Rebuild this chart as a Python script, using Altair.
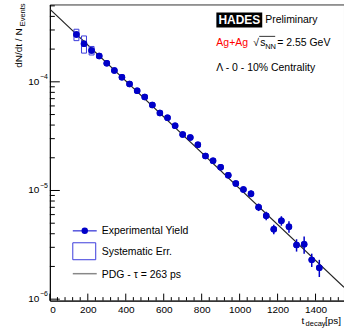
import altair as alt
import pandas as pd

FONT = "Liberation Sans"

# ---- data ----
t_decay = [140, 180, 220, 260, 300, 340, 380, 420, 460, 500, 540, 580, 620, 660,
           700, 740, 780, 820, 860, 900, 940, 980, 1020, 1060, 1100, 1140, 1180,
           1220, 1260, 1300, 1340, 1380, 1420]
yield_vals = [2.72e-4, 2.24e-4, 1.94e-4, 1.73e-4, 1.48e-4, 1.27e-4, 1.10e-4, 9.53e-5,
              8.27e-5, 7.24e-5, 6.11e-5, 5.16e-5, 4.67e-5, 3.95e-5, 3.27e-5, 3.08e-5,
              2.63e-5, 2.08e-5, 1.88e-5, 1.64e-5, 1.38e-5, 1.16e-5, 1.02e-5, 9.33e-6,
              7.03e-6, 5.86e-6, 4.39e-6, 5.27e-6, 4.65e-6, 3.15e-6, 3.20e-6, 2.30e-6,
              1.95e-6]
stat_rel = [0.03] * 20 + [0.05, 0.05, 0.06, 0.07, 0.08, 0.09, 0.10, 0.10, 0.12,
                          0.13, 0.18, 0.14, 0.18]
sys_rel = [0.12, 0.18, 0.09] + [0.02] * 30
sys_half_width = 13

fit_A = 4.67e-4
fit_tau = 263
fit_range = [0, 1550]

x_major = [0, 200, 400, 600, 800, 1000, 1200, 1400]
x_minor = [t for t in range(40, 1550, 40) if t % 200 != 0]
y_major = [1e-6, 1e-5, 1e-4]
y_exp = ["−6", "−5", "−4"]
y_minor = [k * d for d in (1e-6, 1e-5, 1e-4) for k in range(2, 10) if k * d < 5.1e-4]

W, H = 295, 297
BLUE = "#0000c8"
SYS = "#3c3cdc"

df = pd.DataFrame({
    "t": t_decay,
    "v": yield_vals,
    "lo": [v * (1 - e) for v, e in zip(yield_vals, stat_rel)],
    "hi": [v * (1 + e) for v, e in zip(yield_vals, stat_rel)],
    "slo": [v * (1 - e) for v, e in zip(yield_vals, sys_rel)],
    "shi": [v * (1 + e) for v, e in zip(yield_vals, sys_rel)],
    "tl": [t - sys_half_width for t in t_decay],
    "tr": [t + sys_half_width for t in t_decay],
})

xs = alt.Scale(domain=[0, 1550], nice=False, zero=False)
ys = alt.Scale(type="log", domain=[0.97e-6, 5.15e-4], nice=False)

AX = alt.Axis(values=x_major, ticks=False, grid=False, title=None, format="d",
              labelFont=FONT, labelFontSize=10, labelColor="black",
              labelPadding=4, domainColor="black")
AY = alt.Axis(values=y_major, ticks=False, grid=False, title=None, labels=False,
              domainColor="black")

base = alt.Chart(df)

points = base.mark_point(filled=True, shape="circle", size=42, color=BLUE, opacity=1).encode(
    x=alt.X("t:Q", scale=xs, axis=AX),
    y=alt.Y("v:Q", scale=ys, axis=AY),
)

errs = base.mark_rule(color=BLUE, strokeWidth=1.5).encode(
    x=alt.X("t:Q", scale=xs, axis=AX),
    y=alt.Y("lo:Q", scale=ys, axis=AY),
    y2="hi:Q",
)

boxes = base.mark_rect(fill=None, stroke=SYS, strokeWidth=1).encode(
    x=alt.X("tl:Q", scale=xs, axis=AX),
    x2="tr:Q",
    y=alt.Y("slo:Q", scale=ys, axis=AY),
    y2="shi:Q",
)

fit = alt.Chart(pd.DataFrame({"t": fit_range})).transform_calculate(
    v=f"{fit_A} * exp(-datum.t / {fit_tau})"
).mark_line(color="#222222", strokeWidth=1.2, clip=True).encode(
    x=alt.X("t:Q", scale=xs, axis=AX),
    y=alt.Y("v:Q", scale=ys, axis=AY),
)

# inner ticks (ROOT style)
def xticks(vals, ln):
    return alt.Chart(pd.DataFrame({"t": vals})).mark_rule(color="black", strokeWidth=1).encode(
        x=alt.X("t:Q", scale=xs, axis=AX), y=alt.value(H), y2=alt.value(H - ln))

def yticks(vals, ln):
    return alt.Chart(pd.DataFrame({"v": vals})).mark_rule(color="black", strokeWidth=1).encode(
        y=alt.Y("v:Q", scale=ys, axis=AY), x=alt.value(0), x2=alt.value(ln))

ylab_df = pd.DataFrame({"v": y_major, "e": y_exp, "b": ["10"] * len(y_major)})
ylab_base = alt.Chart(ylab_df).mark_text(align="right", baseline="middle", fontSize=10,
                                         font=FONT, color="black").encode(
    y=alt.Y("v:Q", scale=ys, axis=AY), x=alt.value(-10.5), text="b:N")
ylab_exp = alt.Chart(ylab_df).mark_text(align="left", baseline="middle", fontSize=7,
                                        font=FONT, color="black", dy=-5).encode(
    y=alt.Y("v:Q", scale=ys, axis=AY), x=alt.value(-10), text="e:N")

def txt(s, x, y, size=10.5, color="black", align="left", angle=0, weight="normal", baseline="middle"):
    return alt.Chart(pd.DataFrame({"s": [s]})).mark_text(
        align=align, baseline=baseline, fontSize=size, font=FONT, color=color,
        angle=angle, fontWeight=weight).encode(x=alt.value(x), y=alt.value(y), text="s:N")

def one():
    return alt.Chart(pd.DataFrame({"k": [0]}))

layers = [
    points,
    xticks(x_major, 7), xticks(x_minor, 3.5),
    yticks(y_major, 10), yticks(y_minor, 5),
    ylab_base, ylab_exp,
    fit, boxes, errs, points,
    # legend
    one().mark_rule(color="#5555dd", strokeWidth=1.5).encode(x=alt.value(23), x2=alt.value(47), y=alt.value(227)),
    one().mark_point(filled=True, shape="circle", size=42, color=BLUE, opacity=1).encode(x=alt.value(35), y=alt.value(227)),
    txt("Experimental Yield", 52, 227),
    one().mark_rect(fill=None, stroke=SYS, strokeWidth=1).encode(x=alt.value(23), x2=alt.value(46), y=alt.value(239), y2=alt.value(256)),
    txt("Systematic Err.", 52, 248),
    one().mark_rule(color="#888888", strokeWidth=1.5).encode(x=alt.value(23), x2=alt.value(47), y=alt.value(270)),
    txt("PDG - τ = 263 ps", 52, 271),
    # top-right annotations
    one().mark_rect(fill="black").encode(x=alt.value(167), x2=alt.value(213), y=alt.value(8), y2=alt.value(23)),
    txt("HADES", 190, 16, size=12, color="white", align="center", weight="bold"),
    txt("Preliminary", 216, 16),
    txt("Ag+Ag", 167, 39, color="#ff0000"),
    txt("√", 204, 39),
    txt("s", 211, 39),
    txt("NN", 216, 42.5, size=7.5),
    one().mark_rule(color="black", strokeWidth=0.8).encode(x=alt.value(210), x2=alt.value(226), y=alt.value(32)),
    txt("= 2.55 GeV", 228, 39),
    txt("Λ - 0 - 10% Centrality", 167, 64),
    # axis titles
    txt("dN/dt / N", -31, 24, size=10, align="right", angle=270),
    txt("Events", -26.5, -1, size=7.5, align="right", angle=270),
    txt("t", 252.5, 317.5, size=10),
    txt("decay", 256.5, 320.5, size=7.5),
    txt("[ps]", 276, 317.5, size=10),
]

chart = alt.layer(*layers).properties(
    width=W, height=H,
    autosize=alt.AutoSizeParams(type="none"),
    padding={"left": 50, "top": 4, "right": 0, "bottom": 28},
).configure_view(stroke="#333333", strokeWidth=1).configure_axis(domainWidth=1)

chart.save("out.html", embed_options={"renderer": "svg", "actions": False})
